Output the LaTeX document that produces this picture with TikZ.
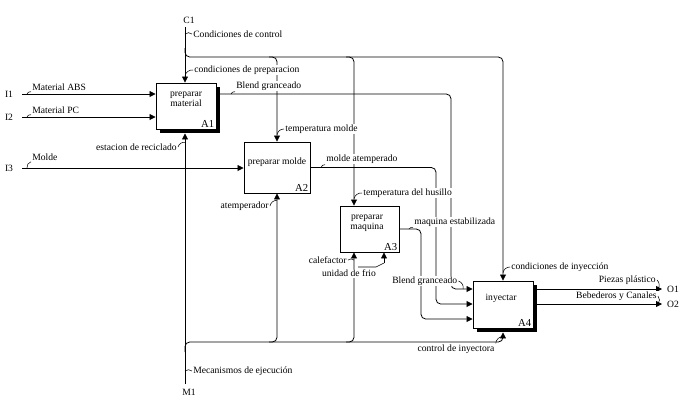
\documentclass[tikz,border=0pt]{standalone}
\usepackage{fontspec}
\setmainfont{Liberation Serif}
\usetikzlibrary{arrows.meta, shadows}

\begin{document}
\begin{tikzpicture}[
x=0.75pt, y=-0.75pt,
font=\fontsize{7.2}{8.4}\selectfont,
fn/.style={draw, line width=0.7pt, fill=white, inner sep=0pt},
fnsh/.style={fn, general shadow={fill=black, shadow xshift=3pt, shadow yshift=-3pt}},
fnid/.style={anchor=south east, inner sep=1.5pt, font=\fontsize{8}{9}\selectfont},
fntxt/.style={align=center, inner sep=0pt, font=\fontsize{7.2}{7.8}\selectfont},
arr/.style={-{Triangle[length=4.5pt, width=4.5pt]}, line width=0.6pt, rounded corners=3.5pt},
lbl/.style={fill=white, inner sep=0.8pt},
lead/.style={line width=0.4pt, bend left=40}
]

\useasboundingbox (0,0) rectangle (683,401);

% activity boxes
\node[fnsh, minimum width=45pt, minimum height=34.5pt, label={[fnid]south east:A1}] (A1) at (186,106) {};
\node[fn, minimum width=49.5pt, minimum height=38.25pt, label={[fnid]south east:A2}] (A2) at (277,167.5) {};
\node[fn, minimum width=44.25pt, minimum height=34.5pt, label={[fnid]south east:A3}] (A3) at (369.5,229) {};
\node[fnsh, minimum width=45pt, minimum height=35.25pt, label={[fnid]south east:A4}] (A4) at (503,304.5) {};

\node[fntxt] (A1t) at (186,99.5) {preparar\\material};
\node[fntxt] (A2t) at (277,162) {preparar molde};
\node[fntxt] (A3t) at (367,223.5) {preparar\\maquina};
\node[fntxt] (A4t) at (501,298) {inyectar};

% border points and junctions
\coordinate (C1) at (185,27);
\coordinate (M1) at (185,384);
\coordinate (I1) at (22,94);
\coordinate (I2) at (22,117);
\coordinate (I3) at (22,168);
\coordinate (O1) at (662,289);
\coordinate (O2) at (662,304);
\coordinate (cj) at (185,48);
\coordinate (cbar) at (300,57);
\coordinate (mj) at (185,352);
\coordinate (mbar) at (300,342);
\coordinate (blendx) at (451,289);
\coordinate (moldex) at (436,304);
\coordinate (maqx) at (421,319);
\coordinate (x3a) at (354,0);
\coordinate (frio) at (384,263);
\coordinate (friol) at (358,267);

% controls
\draw[arr] (C1) -- (C1 |- A1.north);
\draw[arr] (cj) |- (cbar) -| (A4.north);
\draw[arr] ([xshift=-6pt]A2.north |- cbar) -| (A2.north);
\draw[arr] ([xshift=-6pt]x3a |- cbar) -| (x3a |- A3.north);

% inputs
\draw[arr] (I1) -- (I1 -| A1.west);
\draw[arr] (I2) -- (I2 -| A1.west);
\draw[arr] (I3) -- (I3 -| A2.west);

% flows between boxes
\draw[arr] (I1 -| A1.east) -| (blendx) -- (blendx -| A4.west);
\draw[arr] (A2.east) -| (moldex) -- (moldex -| A4.west);
\draw[arr] (A3.east) -| (maqx) -- (maqx -| A4.west);

% outputs
\draw[arr] (O1 -| A4.east) -- (O1);
\draw[arr] (O2 -| A4.east) -- (O2);

% mechanisms
\draw[arr] (M1) -- ([yshift=-3pt]M1 |- A1.south);
\draw[arr] (mj) |- (mbar) -| ([yshift=-3pt]A4.south);
\draw[arr] ([xshift=-6pt]A2.south |- mbar) -| (A2.south);
\draw[arr] ([xshift=-6pt]x3a |- mbar) -| (x3a |- A3.south);
\draw[arr] (frio) -- (frio |- A3.south);
\draw[line width=0.4pt] (friol) -- ++(18,0) -- (frio);

% labels
\node[lbl] (lC1) at (189,20) {C1};
\node[lbl, anchor=west] (lCC) at (192,34) {Condiciones de control};
\node[lbl, anchor=west] (lCP) at (193,70) {condiciones de preparacion};
\node[lbl, anchor=west] (lABS) at (31,87) {Material ABS};
\node[lbl, anchor=west] (lPC) at (31,110) {Material PC};
\node[lbl, anchor=west] (lMo) at (31,157) {Molde};
\node[lbl, anchor=west] (lBG) at (235,86) {Blend granceado};
\node[lbl, anchor=east] (lER) at (178,147) {estacion de reciclado};
\node[lbl, anchor=west] (lTM) at (284,129) {temperatura molde};
\node[lbl, anchor=west] (lMA) at (325,159) {molde atemperado};
\node[lbl, anchor=east] (lAt) at (270,206) {atemperador};
\node[lbl, anchor=west] (lTH) at (362,193) {temperatura del husillo};
\node[lbl, anchor=west] (lME) at (413,222) {maquina estabilizada};
\node[lbl, anchor=east] (lCa) at (348,260) {calefactor};
\node[lbl] (lUF) at (349,273) {unidad de frio};
\node[lbl, anchor=west] (lBG2) at (391,281) {Blend granceado};
\node[lbl, anchor=west] (lCI) at (510,267) {condiciones de inyección};
\node[lbl, anchor=east] (lPP) at (657,280) {Piezas plástico};
\node[lbl, anchor=east] (lBC) at (658,296) {Bebederos y Canales};
\node[lbl] (lO1) at (673,289) {O1};
\node[lbl] (lO2) at (673,304) {O2};
\node[lbl] (lCtrl) at (456,349) {control de inyectora};
\node[lbl, anchor=west] (lMec) at (192,371) {Mecanismos de ejecución};
\node[lbl] (lM1) at (189,392) {M1};
\node[lbl] (lI1) at (9,94) {I1};
\node[lbl] (lI2) at (9,117) {I2};
\node[lbl] (lI3) at (9,168) {I3};

% label leaders
\draw[lead] (lCC.west -| C1) to (lCC.west);
\draw[lead] (lCP.south west -| C1) to (lCP.west);
\draw[lead] ([xshift=-3pt]I1 -| lABS.west) to (lABS.south west);
\draw[lead] ([xshift=-3pt]I2 -| lPC.west) to (lPC.south west);
\draw[lead] ([xshift=-3pt]I3 -| lMo.west) to (lMo.south west);
\draw[lead] ([xshift=-3pt]I1 -| lBG.west) to (lBG.south west);
\draw[lead] (lER.east) to (lER.north -| M1);
\draw[lead] (lTM.south west -| A2.north) to (lTM.west);
\draw[lead] ([xshift=-3pt]A2.east -| lMA.west) to (lMA.south west);
\draw[lead] (lAt.east) to (lAt.north -| A2.south);
\draw[lead] (lTH.south west -| x3a) to (lTH.west);
\draw[lead] ([xshift=-3pt]A3.east -| lME.west) to (lME.south west);
\draw[lead] (lCa.east) to (lCa.east -| x3a);
\draw[lead] (lBG2.east) to ([xshift=-7pt]blendx -| A4.west);
\draw[lead] (lCI.south west -| A4.north) to (lCI.west);
\draw[lead] (lPP.east) to ([xshift=-3pt]O1);
\draw[lead] (lBC.east) to ([xshift=-3pt]O2);
\draw[lead] (lCtrl.north east) to ([yshift=-6pt]A4.south);
\draw[lead] (lMec.west -| M1) to (lMec.west);

\end{tikzpicture}
\end{document}
